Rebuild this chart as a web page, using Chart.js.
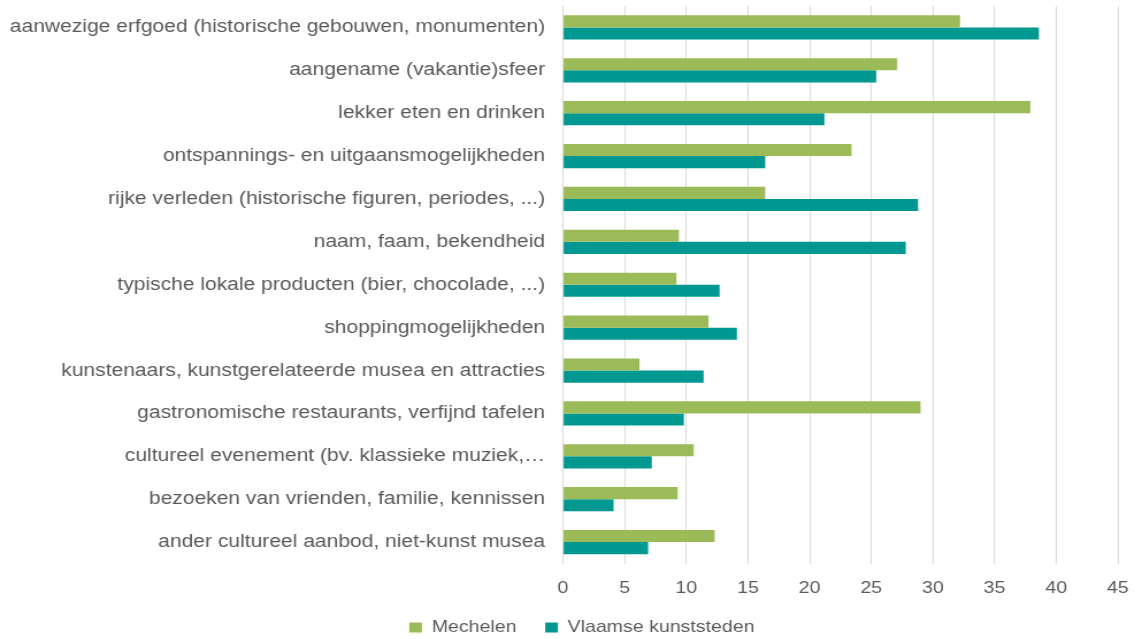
<!DOCTYPE html>
<html>
<head>
<meta charset="utf-8">
<script src="https://cdn.jsdelivr.net/npm/chart.js@4/dist/chart.umd.min.js"></script>
<style>
  html, body { margin: 0; padding: 0; background: #fff; overflow: hidden; }
  /* the original picture is stretched sideways a bit, so draw narrower and widen */
  #wrap { width: 988px; height: 639px; transform: scaleX(1.15); transform-origin: 0 0; }
</style>
</head>
<body>
<div id="wrap"><canvas id="chart" width="988" height="639"></canvas></div>
<script>
const categories = [
    'aanwezige erfgoed (historische gebouwen, monumenten)',
    'aangename (vakantie)sfeer',
    'lekker eten en drinken',
    'ontspannings- en uitgaansmogelijkheden',
    'rijke verleden (historische figuren, periodes, ...)',
    'naam, faam, bekendheid',
    'typische lokale producten (bier, chocolade, ...)',
    'shoppingmogelijkheden',
    'kunstenaars, kunstgerelateerde musea en attracties',
    'gastronomische restaurants, verfijnd tafelen',
    'cultureel evenement (bv. klassieke muziek,…',
    'bezoeken van vrienden, familie, kennissen',
    'ander cultureel aanbod, niet-kunst musea'
];
const mechelen = [32.2, 27.1, 37.9, 23.4, 16.4, 9.4, 9.2, 11.8, 6.2, 29.0, 10.6, 9.3, 12.3];
const vlaamseKunststeden = [38.6, 25.4, 21.2, 16.4, 28.8, 27.8, 12.7, 14.1, 11.4, 9.8, 7.2, 4.1, 6.9];
const seriesNames = ['Mechelen', 'Vlaamse kunststeden'];
const xTicks = [0, 5, 10, 15, 20, 25, 30, 35, 40, 45];

const textColor = '#595959';
const fontFamily = '"Liberation Sans", Arial, sans-serif';

// legend sits a little right of the canvas centre in the original
const legendShift = {
    id: 'legendShift',
    afterLayout(chart) {
        chart.legend.left += 20;
        chart.legend.right += 20;
    }
};

new Chart(document.getElementById('chart').getContext('2d'), {
    type: 'bar',
    data: {
        labels: categories,
        datasets: [
            {
                label: seriesNames[0],
                data: mechelen,
                backgroundColor: '#9BBB59',
                categoryPercentage: 0.565,
                barPercentage: 1
            },
            {
                label: seriesNames[1],
                data: vlaamseKunststeden,
                backgroundColor: '#009890',
                categoryPercentage: 0.565,
                barPercentage: 1
            }
        ]
    },
    plugins: [legendShift],
    options: {
        indexAxis: 'y',
        responsive: false,
        animation: false,
        layout: { padding: { top: 6, right: 16, bottom: 0, left: 0 } },
        plugins: {
            tooltip: { enabled: false },
            legend: {
                position: 'bottom',
                maxHeight: 45,
                labels: {
                    boxWidth: 11,
                    boxHeight: 10,
                    padding: 25,
                    color: textColor,
                    font: { family: fontFamily, size: 17 }
                }
            }
        },
        scales: {
            x: {
                min: xTicks[0],
                max: xTicks[xTicks.length - 1],
                afterBuildTicks: axis => { axis.ticks = xTicks.map(v => ({ value: v })); },
                afterFit: axis => {
                    axis.height = 30.5;
                    axis.paddingLeft = 0;
                    axis.paddingRight = 0;
                },
                grid: { color: '#d9d9d9', lineWidth: 1, drawTicks: false },
                border: { display: false },
                ticks: {
                    color: textColor,
                    padding: 15,
                    maxRotation: 0,
                    font: { family: fontFamily, size: 17 }
                }
            },
            y: {
                grid: { display: false, drawTicks: false },
                border: { display: false },
                afterFit: axis => {
                    axis.width = 489.6;
                    axis.paddingTop = 0;
                    axis.paddingBottom = 0;
                },
                ticks: {
                    color: textColor,
                    padding: 15.6,
                    autoSkip: false,
                    font: { family: fontFamily, size: 18.3 }
                }
            }
        }
    }
});
</script>
</body>
</html>
